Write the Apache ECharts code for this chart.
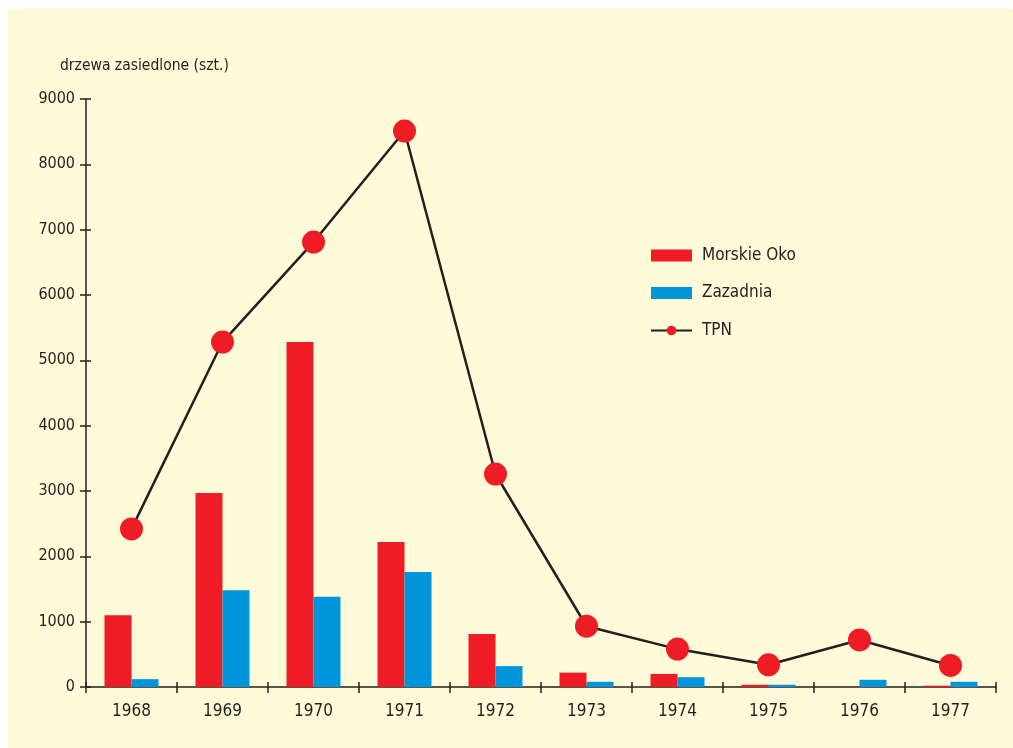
<!DOCTYPE html>
<html>
<head>
<meta charset="utf-8">
<script src="https://cdn.jsdelivr.net/npm/echarts@6/dist/echarts.min.js"></script>
<style>
html,body{margin:0;padding:0;background:#ffffff;}
#chart{width:1013px;height:748px;}
</style>
</head>
<body>
<div id="chart"></div>
<script>
const years = ['1968','1969','1970','1971','1972','1973','1974','1975','1976','1977'];
const morskieOko = [1100, 2970, 5280, 2220, 810, 220, 200, 35, 0, 20];
const zazadnia = [120, 1480, 1380, 1760, 320, 80, 150, 35, 110, 80];
const tpn = [2420, 5280, 6810, 8510, 3260, 930, 580, 340, 720, 330];
const yTitle = 'drzewa zasiedlone (szt.)';

const FONT = '"DejaVu Sans Condensed", "Liberation Sans Narrow", sans-serif';
const TXT = '#231F20';
const RED = '#EE1C25';
const BLUE = '#0095DA';

const chart = echarts.init(document.getElementById('chart'));
chart.setOption({
  animation: false,
  backgroundColor: 'transparent',
  graphic: [{
    type: 'rect', z: -10, silent: true,
    shape: {x: 8, y: 9, width: 1005, height: 739},
    style: {fill: '#FFFAD7'}
  }],
  title: {
    text: yTitle, left: 55, top: 53,
    textStyle: {fontFamily: FONT, fontSize: 15.5, fontWeight: 'normal', color: TXT}
  },
  legend: {
    orient: 'vertical', left: 645, top: 242,
    itemWidth: 41, itemHeight: 12, itemGap: 20.5,
    textStyle: {fontFamily: FONT, fontSize: 17, color: TXT, padding: [0,0,0,5]},
    data: [
      {name: 'Morskie Oko', icon: 'rect'},
      {name: 'Zazadnia', icon: 'rect'},
      {name: 'TPN'}
    ]
  },
  grid: {left: 86, right: 17, top: 99, bottom: 61, containLabel: false},
  xAxis: [{
    type: 'category', data: years, boundaryGap: true,
    axisLine: {lineStyle: {color: TXT, width: 1.5}},
    axisTick: {show: true, length: 6, lineStyle: {color: TXT, width: 1.5}},
    axisLabel: {fontFamily: FONT, fontSize: 17, color: TXT, margin: 16}
  }, {
    type: 'category', data: years, boundaryGap: true, position: 'bottom',
    axisLine: {show: false},
    axisTick: {show: true, inside: true, length: 5, lineStyle: {color: TXT, width: 1.5}},
    axisLabel: {show: false}
  }],
  yAxis: [{
    type: 'value', min: 0, max: 9000, interval: 1000,
    axisLine: {show: true, lineStyle: {color: TXT, width: 1.5}},
    axisTick: {show: true, length: 6, lineStyle: {color: TXT, width: 1.5}},
    axisLabel: {fontFamily: FONT, fontSize: 16, color: TXT, margin: 11, formatter: v => String(v)},
    splitLine: {show: false}
  }, {
    type: 'value', min: 0, max: 9000, interval: 1000, position: 'left',
    axisLine: {show: false},
    axisTick: {show: true, inside: true, length: 5, lineStyle: {color: TXT, width: 1.5}},
    axisLabel: {show: false},
    splitLine: {show: false}
  }],
  series: [{
    name: 'Morskie Oko', type: 'bar', data: morskieOko,
    barWidth: 27, barGap: '0%',
    itemStyle: {color: RED}
  }, {
    name: 'Zazadnia', type: 'bar', data: zazadnia,
    barWidth: 27, barGap: '0%',
    itemStyle: {color: BLUE}
  }, {
    name: 'TPN', type: 'line', data: tpn,
    symbol: 'circle', symbolSize: 23,
    lineStyle: {color: TXT, width: 2.5},
    itemStyle: {color: RED},
    z: 5
  }]
});
</script>
</body>
</html>
